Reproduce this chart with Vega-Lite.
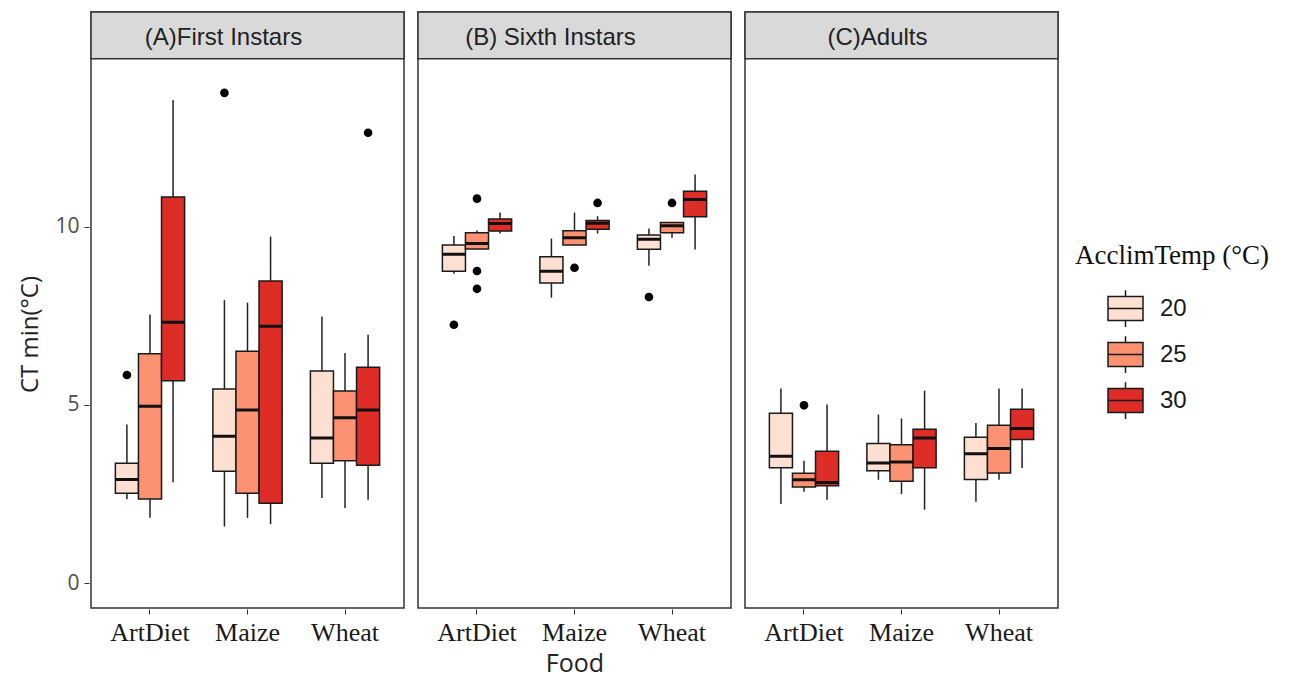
{
  "$schema": "https://vega.github.io/schema/vega-lite/v6.json",
  "background": "white",
  "padding": {"left": 18, "top": 10, "right": 5, "bottom": 3},
  "config": {
    "font": "Liberation Sans",
    "view": {"stroke": "#333333", "strokeWidth": 1.5},
    "axis": {"grid": false},
    "legend": {"padding": 0}
  },
  "data": {
    "values": [
      {"panel": "A", "strip": "(A)First Instars"},
      {"panel": "B", "strip": "(B) Sixth Instars"},
      {"panel": "C", "strip": "(C)Adults"},
      {"panel": "A", "food": "ArtDiet", "temp": "20", "lo": 2.35, "q1": 2.52, "med": 2.91, "q3": 3.36, "hi": 4.45},
      {"panel": "A", "food": "ArtDiet", "temp": "25", "lo": 1.83, "q1": 2.36, "med": 4.96, "q3": 6.44, "hi": 7.54},
      {"panel": "A", "food": "ArtDiet", "temp": "30", "lo": 2.83, "q1": 5.68, "med": 7.32, "q3": 10.84, "hi": 13.56},
      {"panel": "A", "food": "Maize", "temp": "20", "lo": 1.59, "q1": 3.14, "med": 4.12, "q3": 5.45, "hi": 7.94},
      {"panel": "A", "food": "Maize", "temp": "25", "lo": 1.83, "q1": 2.52, "med": 4.86, "q3": 6.51, "hi": 7.87},
      {"panel": "A", "food": "Maize", "temp": "30", "lo": 1.65, "q1": 2.24, "med": 7.21, "q3": 8.48, "hi": 9.73},
      {"panel": "A", "food": "Wheat", "temp": "20", "lo": 2.39, "q1": 3.36, "med": 4.07, "q3": 5.95, "hi": 7.48},
      {"panel": "A", "food": "Wheat", "temp": "25", "lo": 2.11, "q1": 3.43, "med": 4.64, "q3": 5.39, "hi": 6.46},
      {"panel": "A", "food": "Wheat", "temp": "30", "lo": 2.34, "q1": 3.31, "med": 4.86, "q3": 6.06, "hi": 6.97},
      {"panel": "B", "food": "ArtDiet", "temp": "20", "lo": 8.68, "q1": 8.75, "med": 9.23, "q3": 9.49, "hi": 9.74},
      {"panel": "B", "food": "ArtDiet", "temp": "25", "lo": 9.38, "q1": 9.38, "med": 9.53, "q3": 9.83, "hi": 9.9},
      {"panel": "B", "food": "ArtDiet", "temp": "30", "lo": 9.81, "q1": 9.88, "med": 10.09, "q3": 10.22, "hi": 10.4},
      {"panel": "B", "food": "Maize", "temp": "20", "lo": 8.01, "q1": 8.42, "med": 8.75, "q3": 9.16, "hi": 9.67},
      {"panel": "B", "food": "Maize", "temp": "25", "lo": 9.49, "q1": 9.49, "med": 9.69, "q3": 9.89, "hi": 10.4},
      {"panel": "B", "food": "Maize", "temp": "30", "lo": 9.81, "q1": 9.93, "med": 10.1, "q3": 10.18, "hi": 10.3},
      {"panel": "B", "food": "Wheat", "temp": "20", "lo": 8.91, "q1": 9.37, "med": 9.65, "q3": 9.77, "hi": 9.95},
      {"panel": "B", "food": "Wheat", "temp": "25", "lo": 9.69, "q1": 9.83, "med": 10.03, "q3": 10.12, "hi": 10.12},
      {"panel": "B", "food": "Wheat", "temp": "30", "lo": 9.36, "q1": 10.28, "med": 10.77, "q3": 11.0, "hi": 11.47},
      {"panel": "C", "food": "ArtDiet", "temp": "20", "lo": 2.22, "q1": 3.24, "med": 3.56, "q3": 4.77, "hi": 5.46},
      {"panel": "C", "food": "ArtDiet", "temp": "25", "lo": 2.56, "q1": 2.7, "med": 2.9, "q3": 3.08, "hi": 3.43},
      {"panel": "C", "food": "ArtDiet", "temp": "30", "lo": 2.34, "q1": 2.73, "med": 2.82, "q3": 3.7, "hi": 5.01},
      {"panel": "C", "food": "Maize", "temp": "20", "lo": 2.9, "q1": 3.15, "med": 3.37, "q3": 3.92, "hi": 4.73},
      {"panel": "C", "food": "Maize", "temp": "25", "lo": 2.5, "q1": 2.86, "med": 3.4, "q3": 3.88, "hi": 4.62},
      {"panel": "C", "food": "Maize", "temp": "30", "lo": 2.06, "q1": 3.24, "med": 4.07, "q3": 4.32, "hi": 5.4},
      {"panel": "C", "food": "Wheat", "temp": "20", "lo": 2.28, "q1": 2.91, "med": 3.63, "q3": 4.09, "hi": 4.49},
      {"panel": "C", "food": "Wheat", "temp": "25", "lo": 2.9, "q1": 3.09, "med": 3.78, "q3": 4.43, "hi": 5.46},
      {"panel": "C", "food": "Wheat", "temp": "30", "lo": 3.23, "q1": 4.03, "med": 4.34, "q3": 4.88, "hi": 5.46},
      {"panel": "A", "food": "ArtDiet", "temp": "20", "out": 5.84},
      {"panel": "A", "food": "Maize", "temp": "20", "out": 13.76},
      {"panel": "A", "food": "Wheat", "temp": "30", "out": 12.64},
      {"panel": "B", "food": "ArtDiet", "temp": "20", "out": 7.25},
      {"panel": "B", "food": "ArtDiet", "temp": "25", "out": 10.79},
      {"panel": "B", "food": "ArtDiet", "temp": "25", "out": 8.76},
      {"panel": "B", "food": "ArtDiet", "temp": "25", "out": 8.26},
      {"panel": "B", "food": "Maize", "temp": "25", "out": 8.85},
      {"panel": "B", "food": "Maize", "temp": "30", "out": 10.67},
      {"panel": "B", "food": "Wheat", "temp": "20", "out": 8.03},
      {"panel": "B", "food": "Wheat", "temp": "25", "out": 10.67},
      {"panel": "C", "food": "ArtDiet", "temp": "25", "out": 4.99}
    ]
  },
  "spacing": 10,
  "facet": {
    "column": {
      "field": "panel", "type": "nominal", "title": "Food",
      "header": {"labels": false, "titleOrient": "bottom", "titleFont": "Open Sans", "titleFontSize": 25, "titleFontWeight": "normal", "titleColor": "#222222", "titlePadding": -3}
    }
  },
  "spec": {
    "width": 313,
    "height": 596,
    "layer": [
      {
        "transform": [{"filter": "isValid(datum.strip)"}],
        "mark": {"type": "rect", "fill": "#d9d9d9", "stroke": "#333333", "strokeWidth": 1.5},
        "encoding": {
          "y": {"datum": 14.72, "type": "quantitative", "title": "CT min(°C)",
            "scale": {"domain": [-0.7, 16.03], "nice": false, "zero": false},
            "axis": {"values": [0, 5, 10], "labelFont": "Open Sans", "labelFontSize": 21, "labelColor": "#4d4d4d", "labelPadding": 5, "tickSize": 5, "tickColor": "#333333", "domain": false, "titleFont": "Open Sans", "titleFontSize": 24, "titleFontWeight": "normal", "titleColor": "#222222", "titlePadding": 12, "titleY": 322}},
          "y2": {"datum": 16.03}
        }
      },
      {
        "transform": [{"filter": "isValid(datum.strip)"}],
        "mark": {"type": "text", "fontSize": 24, "color": "#222222", "dx": -24, "dy": 3},
        "encoding": {
          "y": {"datum": 15.375, "type": "quantitative", "title": "CT min(°C)"},
          "text": {"field": "strip", "type": "nominal"}
        }
      },
      {
        "transform": [{"filter": "isValid(datum.med)"}],
        "encoding": {
          "x": {
            "field": "food", "type": "nominal", "title": null,
            "scale": {"paddingInner": 0.29, "paddingOuter": 0.25},
            "axis": {"labelAngle": 0, "labelFont": "Liberation Serif", "labelFontSize": 26, "labelColor": "#1a1a1a", "labelPadding": 5, "tickSize": 5, "tickColor": "#333333", "domain": false}
          },
          "xOffset": {"field": "temp", "type": "nominal", "scale": {"paddingInner": 0, "paddingOuter": 0}}
        },
        "layer": [
          {
            "mark": {"type": "rule", "color": "#222222", "strokeWidth": 1.5},
            "encoding": {
              "y": {"field": "lo", "type": "quantitative", "title": "CT min(°C)"},
              "y2": {"field": "hi"}
            }
          },
          {
            "mark": {"type": "bar", "stroke": "#1a1a1a", "strokeWidth": 1.5},
            "encoding": {
              "y": {"field": "q1", "type": "quantitative", "title": "CT min(°C)"},
              "y2": {"field": "q3"},
              "color": {
                "field": "temp", "type": "nominal",
                "scale": {"domain": ["20", "25", "30"], "range": ["#fee0d2", "#fc9272", "#de2d26"]},
                "legend": {
                  "title": "AcclimTemp (°C)", "titleLimit": 400,
                  "orient": "none", "legendX": 984, "legendY": 231,
                  "titleFont": "Liberation Serif", "titleFontSize": 27, "titleFontWeight": "normal", "titleColor": "#111111", "titlePadding": 20,
                  "labelFont": "Liberation Sans", "labelFontSize": 24, "labelColor": "#1a1a1a", "labelOffset": 16,
                  "symbolType": "M-1,-0.69H1V0.69H-1Z M-1,0H1 M0,-0.69V-1.05 M0,0.69V1.05",
                  "symbolSize": 1225, "symbolStrokeColor": "#1a1a1a", "symbolStrokeWidth": 1.5, "symbolOffset": 32,
                  "rowPadding": 3
                }
              }
            }
          },
          {
            "mark": {"type": "bar", "fill": "#111111", "stroke": "#111111", "strokeWidth": 3},
            "encoding": {
              "y": {"field": "med", "type": "quantitative", "title": "CT min(°C)"},
              "y2": {"field": "med"}
            }
          }
        ]
      },
      {
        "transform": [{"filter": "isValid(datum.out)"}],
        "mark": {"type": "circle", "size": 75, "color": "#000000", "opacity": 1},
        "encoding": {
          "x": {"field": "food", "type": "nominal", "title": null},
          "xOffset": {"field": "temp", "type": "nominal"},
          "y": {"field": "out", "type": "quantitative", "title": "CT min(°C)"}
        }
      }
    ]
  }
}
